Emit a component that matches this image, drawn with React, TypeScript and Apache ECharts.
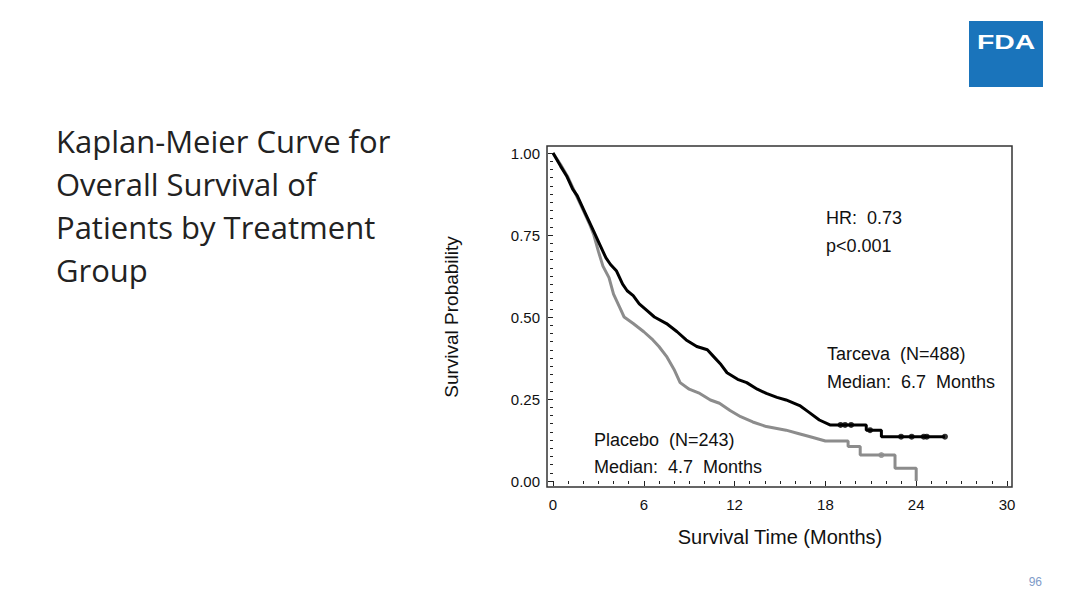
import React, { useEffect, useRef } from "react";
import * as echarts from "echarts";

// Kaplan-Meier estimates (months, survival probability)
const tarcevaMonths = [0, 0.5, 0.9, 1.3, 1.6, 2.0, 2.3, 2.7, 3.1, 3.5, 3.8, 4.2, 4.6, 4.9, 5.3, 5.7, 6.2, 6.7, 7.5, 8.2, 8.8, 9.5, 10.2, 10.6, 11.1, 11.5, 12.2, 12.8, 13.5, 14.1, 14.8, 15.4, 16.3, 16.9, 17.6, 18.3, 20.7, 20.7, 21.7, 21.7, 25.9];
const tarcevaSurv = [1.0, 0.96, 0.93, 0.89, 0.87, 0.83, 0.8, 0.76, 0.72, 0.68, 0.66, 0.64, 0.6, 0.58, 0.565, 0.54, 0.52, 0.5, 0.48, 0.455, 0.43, 0.41, 0.4, 0.38, 0.355, 0.33, 0.31, 0.3, 0.28, 0.267, 0.255, 0.247, 0.23, 0.21, 0.186, 0.171, 0.171, 0.155, 0.155, 0.135, 0.135];

const placeboMonths = [0, 0.5, 1.0, 1.5, 2.0, 2.4, 2.7, 3.0, 3.3, 3.7, 4.0, 4.4, 4.7, 5.3, 6.0, 6.6, 7.0, 7.5, 8.0, 8.4, 9.0, 9.7, 10.4, 11.0, 11.7, 12.4, 13.2, 14.1, 15.4, 16.2, 17.0, 18.0, 19.5, 19.5, 20.3, 20.3, 22.6, 22.6, 24.0, 24.0];
const placeboSurv = [1.0, 0.965, 0.925, 0.875, 0.825, 0.785, 0.75, 0.7, 0.655, 0.62, 0.57, 0.53, 0.5, 0.48, 0.455, 0.43, 0.41, 0.38, 0.34, 0.3, 0.28, 0.267, 0.247, 0.237, 0.215, 0.196, 0.18, 0.166, 0.155, 0.145, 0.135, 0.122, 0.122, 0.105, 0.105, 0.079, 0.079, 0.039, 0.039, 0.0];

// Censoring marks
const tarcevaCensorMonths = [19.0, 19.3, 19.7, 20.95, 23.0, 23.7, 24.5, 24.7, 25.9];
const tarcevaCensorSurv = [0.171, 0.171, 0.171, 0.155, 0.135, 0.135, 0.135, 0.135, 0.135];
const placeboCensorMonths = [21.7];
const placeboCensorSurv = [0.079];

const xTicks = [0, 6, 12, 18, 24, 30];
const yTicks = [0, 0.25, 0.5, 0.75, 1.0];

const titleLines = ["Kaplan-Meier Curve for", "Overall Survival of", "Patients by Treatment", "Group"];

const chartFont = "'Liberation Sans', Arial, sans-serif";

export default function App() {
  const ref = useRef<HTMLDivElement>(null);
  useEffect(() => {
    if (!ref.current) return;
    const chart = echarts.init(ref.current, undefined, { renderer: "svg" });
    const zip = (a: number[], b: number[]) => a.map((v, i) => [v, b[i]]);
    const gridLeft = 553, gridTop = 153, gridW = 454, gridH = 328;
    const annot = (x: number, y: number, text: string) => ({
      type: "text",
      x,
      y,
      style: { text, font: "18px 'Liberation Sans', Arial, sans-serif", fill: "#111", verticalAlign: "middle" },
    });
    chart.setOption({
      animation: false,
      backgroundColor: "#ffffff",
      textStyle: { fontFamily: chartFont },
      grid: { left: gridLeft, top: gridTop, width: gridW, height: gridH, containLabel: false },
      xAxis: {
        type: "value",
        min: xTicks[0],
        max: xTicks[xTicks.length - 1],
        interval: 6,
        offset: 6,
        name: "Survival Time (Months)",
        nameLocation: "middle",
        nameGap: 40,
        nameTextStyle: { fontSize: 20, color: "#111", fontFamily: chartFont },
        axisLine: { show: false },
        axisTick: { show: true, length: 5, lineStyle: { color: "#222" } },
        minorTick: { show: true, splitNumber: 6, length: 3, lineStyle: { color: "#222" } },
        axisLabel: { fontSize: 15, color: "#111", margin: 10, fontFamily: chartFont },
        splitLine: { show: false },
      },
      yAxis: {
        type: "value",
        min: yTicks[0],
        max: yTicks[yTicks.length - 1],
        interval: 0.25,
        offset: 6,
        name: "Survival Probability",
        nameLocation: "middle",
        nameGap: 86,
        nameTextStyle: { fontSize: 19, color: "#111", fontFamily: chartFont },
        axisLine: { show: false },
        axisTick: { show: true, length: 5, lineStyle: { color: "#222" } },
        minorTick: { show: true, splitNumber: 10, length: 3, lineStyle: { color: "#222" } },
        axisLabel: { fontSize: 15, color: "#111", margin: 7, fontFamily: chartFont, formatter: (v: number) => v.toFixed(2) },
        splitLine: { show: false },
      },
      series: [
        {
          name: "Placebo",
          type: "line",
          data: zip(placeboMonths, placeboSurv),
          showSymbol: false,
          symbol: "none",
          lineStyle: { color: "#8c8c8c", width: 3 },
          z: 2,
        },
        {
          name: "Tarceva",
          type: "line",
          data: zip(tarcevaMonths, tarcevaSurv),
          showSymbol: false,
          symbol: "none",
          lineStyle: { color: "#000000", width: 3 },
          z: 3,
        },
        {
          name: "Placebo censored",
          type: "scatter",
          data: zip(placeboCensorMonths, placeboCensorSurv),
          symbol: "circle",
          symbolSize: 6,
          itemStyle: { color: "#8c8c8c" },
          z: 4,
        },
        {
          name: "Tarceva censored",
          type: "scatter",
          data: zip(tarcevaCensorMonths, tarcevaCensorSurv),
          symbol: "circle",
          symbolSize: 6,
          itemStyle: { color: "#000000" },
          z: 5,
        },
      ],
      graphic: [
        {
          type: "rect",
          shape: { x: 547, y: 146, width: 465, height: 341 },
          style: { fill: "none", stroke: "#333", lineWidth: 1.5 },
          silent: true,
          z: 10,
        },
        {
          type: "text",
          x: 56,
          y: 119,
          style: {
            text: titleLines.join("\n"),
            font: "31px 'Open Sans', Lato, sans-serif",
            fill: "#222222",
            lineHeight: 43,
          },
        },
        {
          type: "rect",
          shape: { x: 969, y: 21, width: 74, height: 66 },
          style: { fill: "#1a74bb" },
        },
        {
          type: "text",
          x: 1006,
          y: 41,
          scaleX: 1.35,
          style: {
            text: "FDA",
            font: "bold 21px 'Liberation Sans', Arial, sans-serif",
            fill: "#ffffff",
            align: "center",
            verticalAlign: "middle",
          },
        },
        {
          type: "text",
          x: 1042,
          y: 582,
          style: { text: "96", font: "12px 'Liberation Sans', Arial, sans-serif", fill: "#7f9cc9", align: "right", verticalAlign: "middle" },
        },
        annot(826, 218, "HR:  0.73"),
        annot(826, 246, "p<0.001"),
        annot(827, 354, "Tarceva  (N=488)"),
        annot(827, 382, "Median:  6.7  Months"),
        annot(594, 440, "Placebo  (N=243)"),
        annot(594, 467, "Median:  4.7  Months"),
      ],
    });
    return () => chart.dispose();
  }, []);
  return (
    <div
      ref={ref}
      style={{ position: "absolute", left: 0, top: 0, width: 1080, height: 608, background: "#fff" }}
    />
  );
}
